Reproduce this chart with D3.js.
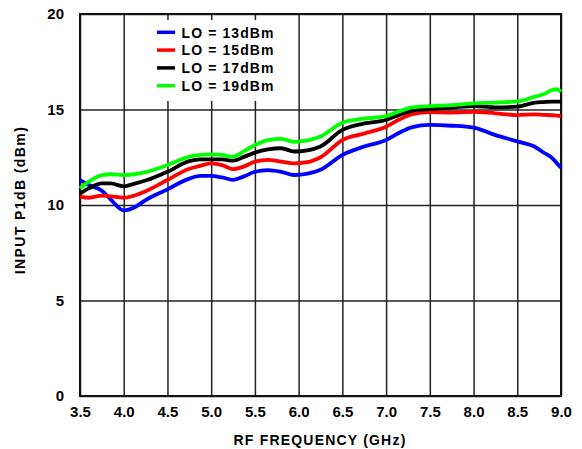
<!DOCTYPE html>
<html>
<head>
<meta charset="utf-8">
<script src="https://cdn.jsdelivr.net/npm/d3@7"></script>
<style>
  body { margin: 0; background: #fff; }
  text { font-family: "Liberation Sans", Arial, sans-serif; font-weight: bold; }
</style>
</head>
<body>
<div id="chart"></div>
<script>
//svg base
var svgwdth = 582;
var svghght = 449;

var margin = {top: 14, right: 21, bottom: 53, left: 80};
var width = svgwdth - margin.left - margin.right;
var height = svghght - margin.top - margin.bottom;

//data
var freq = [3.5, 3.6, 3.75, 3.85, 4.0, 4.125, 4.25, 4.5, 4.75, 4.875, 5.0, 5.125, 5.25, 5.375,
  5.5, 5.65, 5.8, 5.95, 6.1, 6.25, 6.5, 6.75, 7.0, 7.15, 7.3, 7.5, 7.75, 8.0, 8.25, 8.5,
  8.7, 8.8, 8.9, 8.95, 9.0];

var lo13 = [11.3, 11.05, 10.75, 10.3, 9.72, 9.88, 10.26, 10.82, 11.38, 11.52, 11.52, 11.44, 11.32, 11.5,
  11.74, 11.83, 11.74, 11.57, 11.64, 11.85, 12.62, 13.06, 13.4, 13.78, 14.08, 14.19, 14.15, 14.05, 13.66, 13.33,
  13.05, 12.75, 12.45, 12.2, 11.95];
var lo15 = [10.44, 10.38, 10.49, 10.45, 10.38, 10.5, 10.72, 11.31, 11.9, 12.05, 12.18, 12.09, 11.88, 12.02,
  12.27, 12.36, 12.27, 12.18, 12.24, 12.5, 13.4, 13.74, 14.1, 14.47, 14.76, 14.86, 14.84, 14.88, 14.8, 14.71,
  14.75, 14.72, 14.7, 14.68, 14.66];
var lo17 = [10.6, 10.87, 11.13, 11.13, 10.98, 11.12, 11.28, 11.74, 12.3, 12.39, 12.39, 12.39, 12.32, 12.52,
  12.74, 12.91, 12.97, 12.8, 12.86, 13.06, 13.93, 14.27, 14.45, 14.72, 14.94, 15.02, 15.1, 15.18, 15.11, 15.15,
  15.36, 15.39, 15.41, 15.41, 15.41];
var lo19 = [10.87, 11.22, 11.57, 11.61, 11.57, 11.61, 11.72, 12.09, 12.53, 12.62, 12.65, 12.62, 12.53, 12.82,
  13.14, 13.4, 13.46, 13.31, 13.38, 13.58, 14.31, 14.52, 14.66, 14.9, 15.11, 15.18, 15.23, 15.32, 15.36, 15.42,
  15.67, 15.8, 16.02, 16.06, 15.93];

var seriesNames = ["LO = 13dBm", "LO = 15dBm", "LO = 17dBm", "LO = 19dBm"];
var seriesColors = ["#0000ff", "#ff0000", "#000000", "#00ff00"];
var xTicks = [3.5, 4.0, 4.5, 5.0, 5.5, 6.0, 6.5, 7.0, 7.5, 8.0, 8.5, 9.0];
var yTicks = [0, 5, 10, 15, 20];

var series = [lo13, lo15, lo17, lo19];

var svg = d3.select("#chart")
  .append("svg")
  .attr("width", svgwdth)
  .attr("height", svghght);

var chartGroup = svg.append("g").attr("transform", `translate(${margin.left}, ${margin.top})`);

var xScale = d3.scaleLinear().domain([3.5, 9.0]).range([0, width]);
var yScale = d3.scaleLinear().domain([0, 20]).range([height, 0]);

//grid lines
chartGroup.append("g")
  .attr("class", "grid")
  .attr("transform", `translate(0, ${height})`)
  .call(d3.axisBottom(xScale).tickValues(xTicks).tickSize(-height).tickFormat(""))
  .call(g => g.select(".domain").remove())
  .selectAll("line").attr("stroke", "#222").attr("stroke-width", 1.5);

chartGroup.append("g")
  .attr("class", "grid")
  .call(d3.axisLeft(yScale).tickValues(yTicks).tickSize(-width).tickFormat(""))
  .call(g => g.select(".domain").remove())
  .selectAll("line").attr("stroke", "#222").attr("stroke-width", 1.5);

//legend box covers the grid
chartGroup.append("rect")
  .attr("x", 62).attr("y", 6)
  .attr("width", 150).attr("height", 81)
  .attr("fill", "#fff");

//frame
chartGroup.append("rect")
  .attr("x", 0).attr("y", 0)
  .attr("width", width).attr("height", height)
  .attr("fill", "none")
  .attr("stroke", "#111")
  .attr("stroke-width", 2);

//tick labels
var bottomAxis = chartGroup.append("g")
  .attr("transform", `translate(0, ${height})`)
  .call(d3.axisBottom(xScale).tickValues(xTicks).tickSize(0).tickPadding(10).tickFormat(d3.format(".1f")));
bottomAxis.select(".domain").remove();
bottomAxis.selectAll("text").attr("font-size", 15).attr("font-family", "Liberation Sans, Arial, sans-serif")
  .attr("font-weight", "bold").attr("fill", "#000");

var leftAxis = chartGroup.append("g")
  .call(d3.axisLeft(yScale).tickValues(yTicks).tickSize(0).tickPadding(16).tickFormat(d3.format("d")));
leftAxis.select(".domain").remove();
leftAxis.selectAll("text").attr("font-size", 15).attr("font-family", "Liberation Sans, Arial, sans-serif")
  .attr("font-weight", "bold").attr("fill", "#000");

//lines
var line = d3.line()
  .x((d, i) => xScale(freq[i]))
  .y(d => yScale(d))
  .curve(d3.curveMonotoneX);

chartGroup.selectAll(".series")
  .data(series)
  .enter()
  .append("path")
  .attr("class", "series")
  .attr("d", d => line(d))
  .attr("fill", "none")
  .attr("stroke", (d, i) => seriesColors[i])
  .attr("stroke-width", 3.8)
  .attr("stroke-linejoin", "round");

//legend
var legend = chartGroup.selectAll(".legend")
  .data(seriesNames)
  .enter()
  .append("g")
  .attr("class", "legend")
  .attr("transform", (d, i) => `translate(77, ${18.3 + i * 17.8})`);

legend.append("line")
  .attr("x1", 0).attr("x2", 18)
  .attr("stroke", (d, i) => seriesColors[i])
  .attr("stroke-width", 3.5);

legend.append("text")
  .attr("x", 24.5)
  .attr("y", 5.2)
  .attr("font-size", 14)
  .attr("letter-spacing", 1.1)
  .attr("fill", "#000")
  .text(d => d);

//axis titles
chartGroup.append("text")
  .attr("x", 240)
  .attr("y", height + 49)
  .attr("text-anchor", "middle")
  .attr("font-size", 14)
  .attr("letter-spacing", 1.2)
  .text("RF FREQUENCY (GHz)");

chartGroup.append("text")
  .attr("transform", "rotate(-90)")
  .attr("x", -186)
  .attr("y", -55)
  .attr("text-anchor", "middle")
  .attr("font-size", 14)
  .attr("letter-spacing", 1.4)
  .text("INPUT P1dB (dBm)");
</script>
</body>
</html>
